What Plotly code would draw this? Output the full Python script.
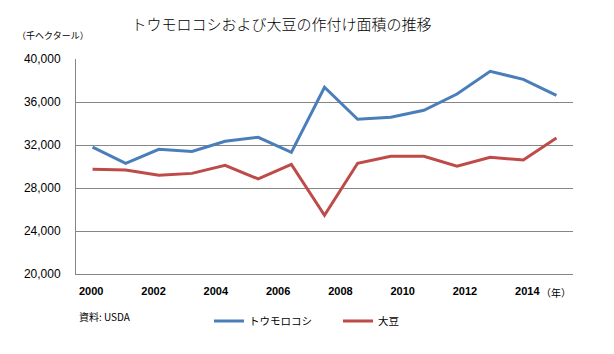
import plotly.graph_objects as go

years = list(range(2000, 2015))
corn = [31800, 30300, 31600, 31400, 32340, 32720, 31320, 37370, 34390, 34580, 35230, 36740, 38850, 38110, 36620]
soy = [29740, 29670, 29180, 29360, 30110, 28840, 30200, 25460, 30300, 30950, 30950, 30020, 30860, 30600, 32650]
names = ["トウモロコシ", "大豆"]
tick_labels = ["2000", "2002", "2004", "2006", "2008", "2010", "2012", "2014"]
title = "トウモロコシおよび大豆の作付け面積の推移"
unit_label = "（千ヘクタール）"
year_label = "（年）"
source = "資料: USDA"

# the reference spaces its year labels slightly tighter than the data points
label_step = 1.88
tickvals = [1999.96 + label_step * i for i in range(len(tick_labels))]

CJK = "Noto Sans CJK JP"
fig = go.Figure()
fig.add_trace(go.Scatter(x=years, y=corn, name=names[0], mode="lines",
                         line=dict(color="#4A7EBB", width=3)))
fig.add_trace(go.Scatter(x=years, y=soy, name=names[1], mode="lines",
                         line=dict(color="#BE4B48", width=3)))

fig.update_layout(
    width=614, height=354,
    margin=dict(l=76, r=41, t=59, b=80, autoexpand=False),
    paper_bgcolor="white", plot_bgcolor="white",
    title=dict(text=title, font=dict(family=CJK, size=15, color="#000", weight=300),
               xref="container", x=281.5/614, xanchor="center",
               yref="container", y=1-25/354, yanchor="middle", automargin=False),
    xaxis=dict(range=[1999.5, 2014.5], tickvals=tickvals, ticktext=tick_labels,
               showgrid=False, showline=True, linecolor="#868686", linewidth=1,
               ticks="", ticklabelstandoff=7,
               tickfont=dict(family="Liberation Sans", size=11, color="#000", weight="bold"),
               zeroline=False, automargin=False),
    yaxis=dict(range=[20000, 40000], dtick=4000, tick0=20000, tickformat=",",
               showgrid=True, gridcolor="#868686", gridwidth=1,
               showline=True, linecolor="#868686", linewidth=1,
               ticks="", ticklabelstandoff=12,
               tickfont=dict(family="Liberation Sans", size=12, color="#000"),
               zeroline=False, automargin=False),
    showlegend=True,
    legend=dict(orientation="h", xref="container", yref="container",
                x=209/614, y=1-321/354, xanchor="left", yanchor="middle",
                font=dict(family=CJK, size=10.5, color="#000"),
                entrywidth=84, bgcolor="rgba(0,0,0,0)"),
    annotations=[
        dict(text=unit_label, xref="paper", yref="paper", x=0, y=1,
             showarrow=False, font=dict(family=CJK, size=9, color="#000"),
             xshift=-61, yshift=24, xanchor="left", yanchor="middle"),
        dict(text=year_label, xref="paper", yref="paper", x=1, y=0,
             showarrow=False, font=dict(family=CJK, size=10, color="#000"),
             xshift=-34, yshift=-18, xanchor="left", yanchor="middle"),
        dict(text=source, xref="paper", yref="paper", x=0, y=0,
             showarrow=False, font=dict(family=CJK, size=10, color="#000"),
             xshift=1, yshift=-42, xanchor="left", yanchor="middle"),
    ],
)

fig.write_html("out.html")
